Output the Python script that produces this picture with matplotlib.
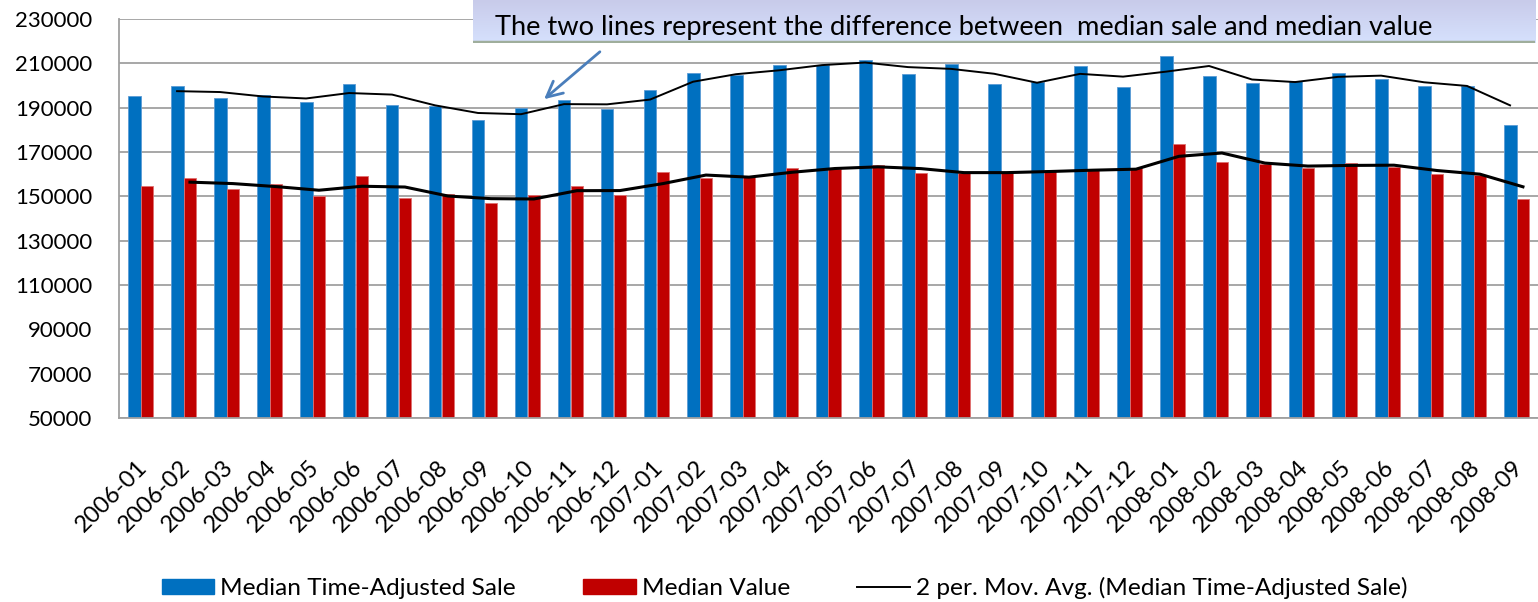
import numpy as np
import matplotlib
matplotlib.use("Agg")
import matplotlib.pyplot as plt
import matplotlib.transforms as mtransforms
from matplotlib.patches import Patch
from matplotlib.lines import Line2D

plt.rcParams['font.family'] = ['Lato', 'DejaVu Sans']

# data
months = ["2006-01", "2006-02", "2006-03", "2006-04", "2006-05", "2006-06",
          "2006-07", "2006-08", "2006-09", "2006-10", "2006-11", "2006-12",
          "2007-01", "2007-02", "2007-03", "2007-04", "2007-05", "2007-06",
          "2007-07", "2007-08", "2007-09", "2007-10", "2007-11", "2007-12",
          "2008-01", "2008-02", "2008-03", "2008-04", "2008-05", "2008-06",
          "2008-07", "2008-08", "2008-09"]
sale = [195300, 199600, 194500, 195600, 192700, 200500, 191300, 190800, 184400,
        189700, 193500, 189500, 197800, 205600, 204600, 209100, 209300, 211400,
        205200, 209800, 200800, 201700, 208800, 199200, 213300, 204300, 201100,
        202000, 205800, 203100, 199800, 199800, 182300]
value = [154700, 158100, 153400, 155400, 150100, 159000, 149400, 150900, 147000,
         150600, 154500, 150700, 160800, 158400, 158900, 162800, 162300, 164300,
         160700, 160700, 160700, 161700, 161900, 162600, 173500, 165600, 164400,
         162900, 165000, 163100, 160200, 159800, 148800]
yticks = list(range(50000, 230001, 20000))

title = "The two lines represent the difference between  median sale and median value"
labels = ["Median Time-Adjusted Sale", "Median Value",
          "2 per. Mov. Avg. (Median Time-Adjusted Sale)"]

BLUE = "#0070c0"
RED = "#c00000"
GRID = "#a0a0a0"

W, H = 1538, 602
fig = plt.figure(figsize=(W / 100, H / 100), dpi=100)
ax = fig.add_axes([119 / W, 1 - 418 / H, (W - 119) / W, (418 - 19) / H])

x = np.arange(len(months))
bw = 0.3
ax.bar(x - bw / 2, np.array(sale) - 50000, bw, bottom=50000, color=BLUE,
       edgecolor="#5b9bd5", linewidth=0.6, zorder=2)
ax.bar(x + bw / 2, np.array(value) - 50000, bw, bottom=50000, color=RED,
       edgecolor="#e07070", linewidth=0.6, zorder=2)

# 2 period moving averages (Excel trendlines)
ma_sale = (np.array(sale[1:]) + np.array(sale[:-1])) / 2
ma_value = (np.array(value[1:]) + np.array(value[:-1])) / 2
ax.plot(x[1:] - bw / 2, ma_sale, color="black", lw=1.4, zorder=3)
ax.plot(x[1:] + bw / 2, ma_value, color="black", lw=2.2, zorder=3)

ax.set_xlim(-0.5, len(months) - 0.5)
ax.set_ylim(50000, 230000)
ax.set_yticks(yticks)
ax.set_yticklabels([str(v) for v in yticks])
ax.yaxis.grid(True, color=GRID, lw=1.3, zorder=0)
ax.set_axisbelow(True)
for s in ["top", "right"]:
    ax.spines[s].set_visible(False)
for s in ["left", "bottom"]:
    ax.spines[s].set_color(GRID)
    ax.spines[s].set_linewidth(1.3)

ax.tick_params(axis="y", length=0, pad=19, labelsize=16)
ax.set_xticks(x)
ax.set_xticklabels(months, rotation=45, ha="right", va="center",
                   rotation_mode="anchor", fontsize=17)
ax.tick_params(axis="x", length=0, pad=33)
offset = mtransforms.ScaledTranslation(3 / 100, 0, fig.dpi_scale_trans)
for lab in ax.get_xticklabels():
    lab.set_transform(lab.get_transform() + offset)

# callout box with gradient
bax = fig.add_axes([473 / W, 1 - 43 / H, (1535 - 473) / W, 43 / H])
grad = np.linspace(0, 1, 64)[:, None]
top_c = np.array([200, 203, 234]) / 255
bot_c = np.array([214, 225, 253]) / 255
img = top_c[None, None, :] * (1 - grad[:, :, None]) + bot_c[None, None, :] * grad[:, :, None]
bax.imshow(img, aspect="auto", extent=[0, 1, 0, 1], origin="upper")
bax.axhline(0.02, color="#9fae9c", lw=2.5)
bax.set_xlim(0, 1)
bax.set_ylim(0, 1)
bax.axis("off")
fig.text(495 / W, 1 - 35 / H, title, fontsize=19.6, va="baseline", ha="left")

ax.annotate("", xy=(542, H - 101), xytext=(602, H - 50),
            xycoords="figure pixels", textcoords="figure pixels",
            arrowprops=dict(arrowstyle="->", color="#4a7ebb", lw=2,
                            mutation_scale=28), annotation_clip=False)

handles = [Patch(color=BLUE), Patch(color=RED), Line2D([], [], color="black", lw=1.4)]
fig.legend(handles, labels, loc="center left", ncol=3,
           bbox_to_anchor=(162 / W, 1 - 588 / H), frameon=False, fontsize=17.6,
           handlelength=2.14, handleheight=0.62, handletextpad=0.25,
           columnspacing=2.75, borderpad=0, borderaxespad=0)

fig.savefig("out.png", dpi=100)
